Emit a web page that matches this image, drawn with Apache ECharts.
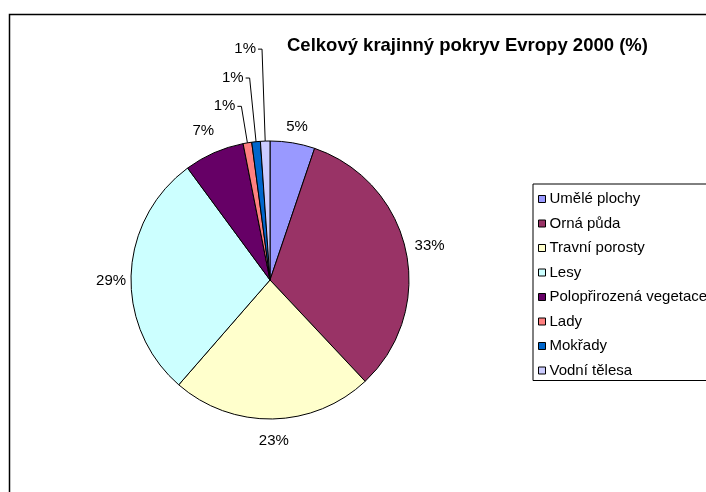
<!DOCTYPE html>
<html>
<head>
<meta charset="utf-8">
<script src="https://cdn.jsdelivr.net/npm/echarts@6/dist/echarts.min.js"></script>
<style>
  html, body { margin: 0; padding: 0; background: #fff; }
  #chart { width: 706px; height: 492px; }
</style>
</head>
<body>
<div id="chart"></div>
<script>
const categories = ['Umělé plochy', 'Orná půda', 'Travní porosty', 'Lesy', 'Polopřirozená vegetace', 'Lady', 'Mokřady', 'Vodní tělesa']
const shares = [5.2, 32.8, 23.4, 28.5, 7.0, 1.0, 1.0, 1.1]
const colors = ['#9999FF', '#993366', '#FFFFCC', '#CCFFFF', '#660066', '#FF8080', '#0066CC', '#CCCCFF']
// leader line length for each slice (small slices get long lines up to the labels)
const lineLengths = [10, 12, 10, 10, 12, 37, 64, 92]
// nudge the big labels to where Excel put them
const labelShift = [[-12, -6], [-7, -2], [-18, 12], [9, 7], [9, -11], [0, 0], [0, 0], [0, 0]]

const chart = echarts.init(document.getElementById('chart'))

const seriesData = categories.map((name, i) => {
  const small = i >= 5
  return {
    name,
    value: shares[i],
    itemStyle: { color: colors[i] },
    labelLine: {
      show: small,
      length: lineLengths[i],
      length2: small ? 4 : 2
    }
  }
})

chart.setOption({
  animation: false,
  textStyle: { fontFamily: 'Liberation Sans, Arial, sans-serif' },
  graphic: [{
    type: 'rect',
    shape: { x: 9.5, y: 14.5, width: 800, height: 600 },
    style: { fill: 'none', stroke: '#000', lineWidth: 1.5 },
    z: -1
  }],
  title: {
    text: 'Celkový krajinný pokryv Evropy 2000 (%)',
    left: 282,
    top: 31,
    textStyle: {
      fontFamily: 'Liberation Sans, Arial, sans-serif',
      fontSize: 18.5,
      fontWeight: 'bold',
      color: '#000'
    }
  },
  legend: {
    orient: 'vertical',
    left: 533,
    top: 184,
    padding: [6, 40, 1, 5],
    itemGap: 6.5,
    itemWidth: 7,
    itemHeight: 7,
    icon: 'rect',
    borderColor: '#000',
    borderWidth: 1,
    itemStyle: { borderColor: '#000', borderWidth: 1 },
    textStyle: {
      fontFamily: 'Liberation Sans, Arial, sans-serif',
      fontSize: 15,
      lineHeight: 18,
      color: '#000',
      padding: [0, 0, 0, -1]
    },
    data: categories
  },
  series: [{
    type: 'pie',
    center: [270, 280],
    radius: 139,
    startAngle: 90,
    clockwise: true,
    avoidLabelOverlap: false,
    itemStyle: { borderColor: '#000', borderWidth: 1 },
    label: {
      show: true,
      position: 'outside',
      distanceToLabelLine: 2,
      fontFamily: 'Liberation Sans, Arial, sans-serif',
      fontSize: 15,
      color: '#000',
      formatter: (p) => Math.round(p.value) + '%'
    },
    labelLine: {
      lineStyle: { color: '#000', width: 1 },
      smooth: false
    },
    labelLayout: (params) => ({
      dx: labelShift[params.dataIndex][0],
      dy: labelShift[params.dataIndex][1]
    }),
    emphasis: { disabled: true },
    data: seriesData
  }]
})
</script>
</body>
</html>
